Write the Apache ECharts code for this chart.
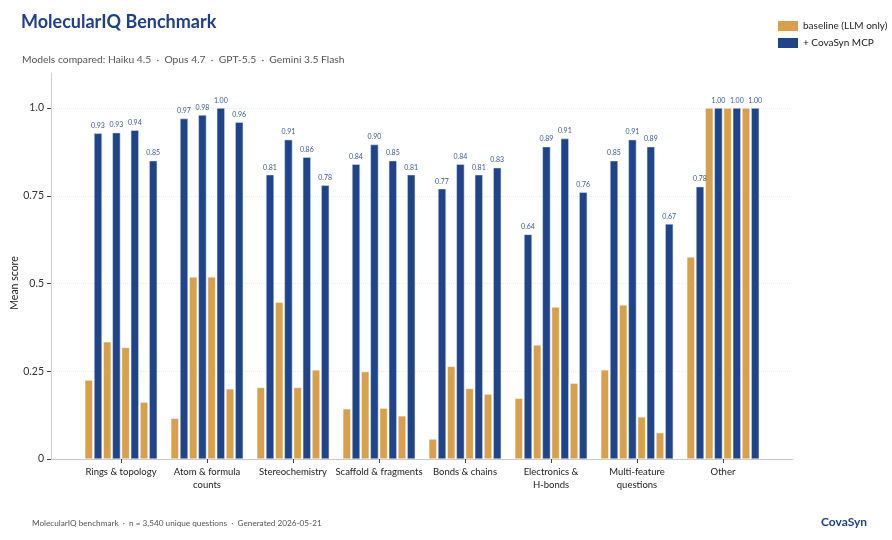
<!DOCTYPE html>
<html>
<head>
<meta charset="utf-8">
<script src="https://cdn.jsdelivr.net/npm/echarts@6/dist/echarts.min.js"></script>
<style>
  html, body { margin: 0; padding: 0; background: #fff; }
  #chart { width: 892px; height: 540px; }
</style>
</head>
<body>
<div id="chart"></div>
<script>
var categories = ['Rings & topology', 'Atom & formula\ncounts', 'Stereochemistry', 'Scaffold & fragments',
  'Bonds & chains', 'Electronics &\nH-bonds', 'Multi-feature\nquestions', 'Other'];
var models = ['Haiku 4.5', 'Opus 4.7', 'GPT-5.5', 'Gemini 3.5 Flash'];

// baseline (LLM only), one array per model, in category order
var baseHaiku  = [0.225, 0.116, 0.204, 0.143, 0.057, 0.173, 0.254, 0.576];
var baseOpus   = [0.334, 0.519, 0.447, 0.249, 0.264, 0.325, 0.439, 1.00];
var baseGpt    = [0.318, 0.519, 0.204, 0.145, 0.201, 0.433, 0.120, 1.00];
var baseGemini = [0.162, 0.200, 0.254, 0.123, 0.185, 0.216, 0.075, 1.00];

// + CovaSyn MCP
var mcpHaiku  = [0.928, 0.970, 0.810, 0.840, 0.770, 0.640, 0.850, 0.776];
var mcpOpus   = [0.930, 0.980, 0.910, 0.896, 0.840, 0.890, 0.910, 1.00];
var mcpGpt    = [0.937, 1.000, 0.860, 0.850, 0.810, 0.913, 0.890, 1.00];
var mcpGemini = [0.850, 0.960, 0.780, 0.810, 0.830, 0.760, 0.670, 1.00];

var yTicks = [0, 0.25, 0.5, 0.75, 1.0];

var baseSets = [baseHaiku, baseOpus, baseGpt, baseGemini];
var mcpSets = [mcpHaiku, mcpOpus, mcpGpt, mcpGemini];

var FONT = 'Lato';
var BASE_NAME = 'baseline (LLM only)';
var MCP_NAME = '+ CovaSyn MCP';

var chart = echarts.init(document.getElementById('chart'));

var series = [];
models.forEach(function (m, i) {
  series.push({
    name: BASE_NAME,
    type: 'bar',
    xAxisIndex: 0, yAxisIndex: 0,
    barWidth: 8,
    barGap: '15%',
    itemStyle: { color: '#D9A04C', borderColor: '#fff', borderWidth: 0.5 },
    data: baseSets[i]
  });
  series.push({
    name: MCP_NAME,
    type: 'bar',
    xAxisIndex: 0, yAxisIndex: 0,
    barWidth: 8,
    barGap: '15%',
    itemStyle: { color: '#1F4489', borderColor: '#dfe6f2', borderWidth: 0.5 },
    label: {
      show: true,
      position: 'top',
      distance: 4,
      fontFamily: FONT,
      fontSize: 7,
      color: '#3A5A9A',
      formatter: function (p) { return p.value.toFixed(2); }
    },
    data: mcpSets[i]
  });
});

var option = {
  animation: false,
  textStyle: { fontFamily: FONT },
  title: [
    {
      text: 'MolecularIQ Benchmark',
      left: 16, top: 8,
      textStyle: { fontFamily: FONT, fontSize: 18, fontWeight: 'bold', color: '#1E3F8A' }
    },
    {
      text: 'Models compared: ' + models.join('  ·  '),
      left: 17, top: 50,
      textStyle: { fontFamily: FONT, fontSize: 10.3, fontWeight: 'normal', color: '#555' }
    },
    {
      text: 'MolecularIQ benchmark  ·  n = 3,540 unique questions  ·  Generated 2026-05-21',
      left: 27, top: 514,
      textStyle: { fontFamily: FONT, fontSize: 8.2, fontWeight: 'normal', color: '#555' }
    },
    {
      text: 'CovaSyn',
      right: 20, top: 511,
      textStyle: { fontFamily: FONT, fontSize: 12, fontWeight: 'bold', color: '#1E3F8A' }
    }
  ],
  legend: {
    data: [BASE_NAME, MCP_NAME],
    orient: 'vertical',
    left: 773, top: 16,
    icon: 'rect',
    itemWidth: 20, itemHeight: 10, itemGap: 7,
    itemStyle: { borderWidth: 0 },
    textStyle: { fontFamily: FONT, fontSize: 10, color: '#222' }
  },
  grid: [
    { left: 78, right: 126, top: 73, bottom: 81 },
    { left: 51, right: 99, top: 73, bottom: 81 }
  ],
  xAxis: [
    {
      type: 'category',
      gridIndex: 0,
      data: categories,
      axisLine: { show: false },
      axisTick: { show: true, alignWithLabel: true, length: 4, lineStyle: { color: '#444' } },
      axisLabel: { fontFamily: FONT, fontSize: 9.5, color: '#222', lineHeight: 13, margin: 6, interval: 0 }
    },
    {
      type: 'value',
      gridIndex: 1,
      min: 0, max: 1,
      axisLine: { show: true, lineStyle: { color: '#c8c8c8', width: 1 } },
      axisTick: { show: false },
      axisLabel: { show: false },
      splitLine: { show: false }
    }
  ],
  yAxis: [
    {
      type: 'value',
      gridIndex: 0,
      min: 0, max: 1.1,
      show: false
    },
    {
      type: 'value',
      gridIndex: 1,
      min: 0, max: 1.1,
      axisLine: { show: true, lineStyle: { color: '#cfcfcf' } },
      axisTick: { show: true, length: 4, customValues: yTicks, lineStyle: { color: '#444' } },
      axisLabel: {
        customValues: yTicks,
        fontFamily: FONT, fontSize: 10.5, color: '#333', margin: 7,
        formatter: function (v) { return v === 1 ? '1.0' : String(v); }
      },
      splitLine: { show: true, lineStyle: { color: '#ececec', type: 'dotted' } }
    }
  ],
  graphic: [
    {
      type: 'text',
      x: 15, y: 283,
      rotation: Math.PI / 2,
      style: {
        text: 'Mean score',
        fontFamily: FONT, fontSize: 10.5, fill: '#222',
        align: 'center', verticalAlign: 'middle'
      }
    }
  ],
  series: series
};

chart.setOption(option);
</script>
</body>
</html>
